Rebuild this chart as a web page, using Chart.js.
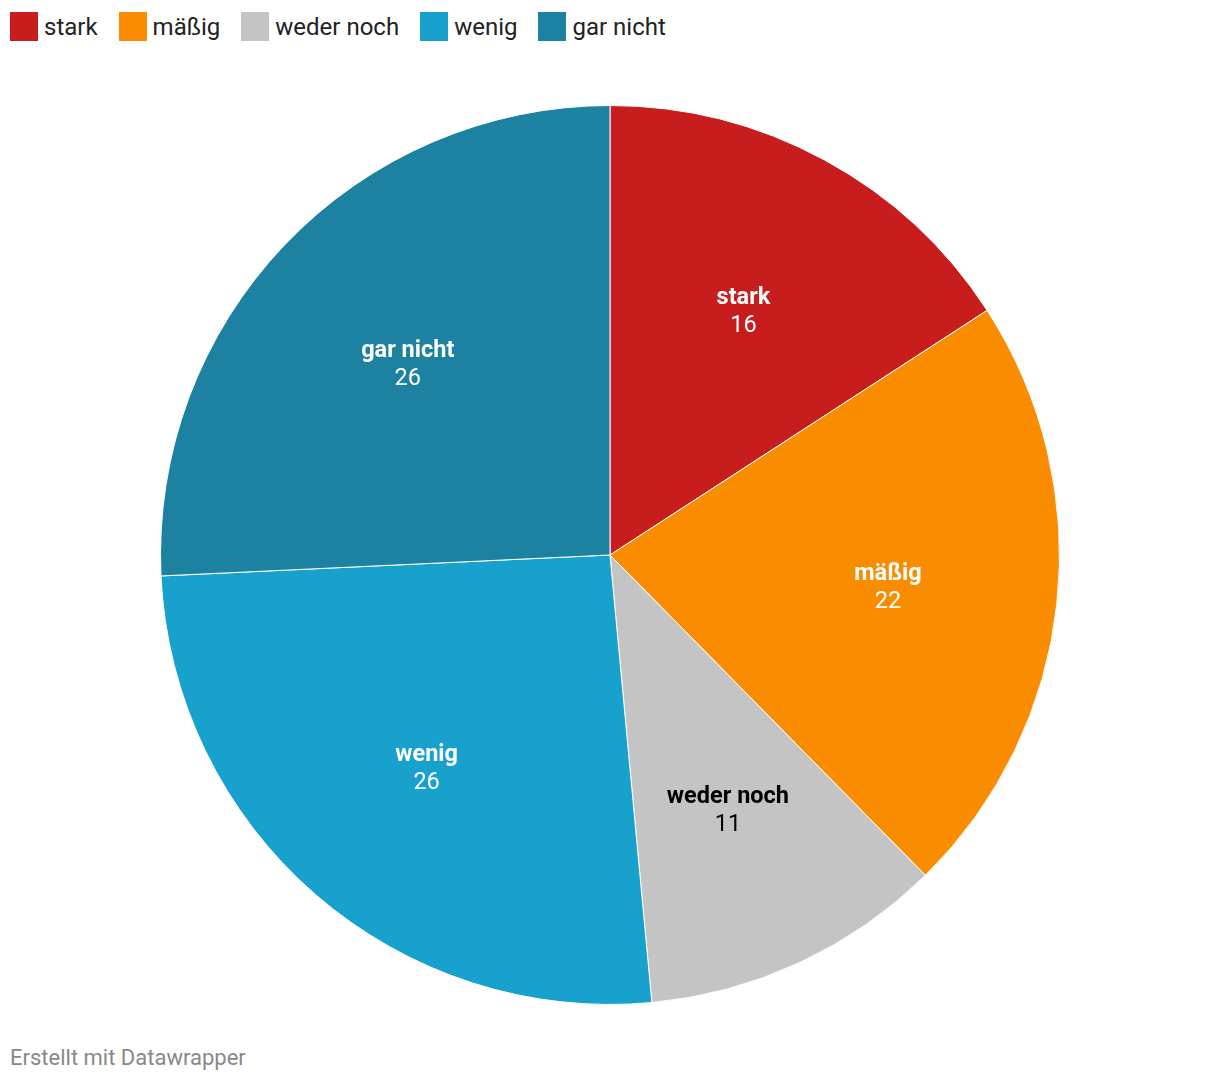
<!DOCTYPE html>
<html>
<head>
<meta charset="utf-8">
<script src="https://cdn.jsdelivr.net/npm/chart.js@4"></script>
<style>
  body { margin: 0; background: #fff; font-family: Roboto, sans-serif; }
  #wrap { position: relative; width: 1220px; height: 1082px; }
  #legend { position: absolute; left: 10px; top: 12px; display: flex; align-items: center; }
  .item { display: flex; align-items: center; margin-right: 21px; font-size: 24px; color: #222; }
  .box { width: 28px; height: 29px; margin-right: 6px; }
  #chartBox { position: absolute; left: 150px; top: 95px; width: 920px; height: 920px; }
  #footer { position: absolute; left: 10px; top: 1045px; font-size: 22px; color: #888; }
</style>
</head>
<body>
<div id="wrap">
  <div id="legend"></div>
  <div id="chartBox"><canvas id="pieChart" width="920" height="920"></canvas></div>
  <div id="footer">Erstellt mit Datawrapper</div>
</div>
<script>
const kategorien = ['stark', 'mäßig', 'weder noch', 'wenig', 'gar nicht'];
const werte = [16, 22, 11, 26, 26];
const farben = ['#c71e1d', '#fa8c00', '#c4c4c4', '#18a1cd', '#1d81a2'];
const textFarben = ['#fff', '#fff', '#000', '#fff', '#fff'];

// legende als html
const legendEl = document.getElementById('legend');
kategorien.forEach((k, i) => {
    const item = document.createElement('div');
    item.className = 'item';
    item.innerHTML = '<span class="box" style="background:' + farben[i] + '"></span>' + k;
    legendEl.appendChild(item);
});

const sliceLabels = {
    id: 'sliceLabels',
    afterDatasetsDraw(chart) {
        const ctx = chart.ctx;
        const meta = chart.getDatasetMeta(0);
        ctx.save();
        ctx.textAlign = 'center';
        ctx.textBaseline = 'middle';
        meta.data.forEach((arc, i) => {
            const p = arc.getProps(['x', 'y', 'startAngle', 'endAngle', 'outerRadius']);
            const mid = (p.startAngle + p.endAngle) / 2;
            const r = p.outerRadius * 0.622;
            const x = p.x + Math.cos(mid) * r;
            const y = p.y + Math.sin(mid) * r + 3;
            ctx.fillStyle = textFarben[i];
            ctx.font = 'bold 23.5px Roboto';
            ctx.fillText(kategorien[i], x, y - 14);
            ctx.font = '23.5px Roboto';
            ctx.fillText(String(werte[i]), x, y + 14);
        });
        ctx.restore();
    }
};

const pieChart = new Chart(document.getElementById('pieChart'), {
    type: 'pie',
    data: {
        labels: kategorien,
        datasets: [{
            data: werte,
            backgroundColor: farben,
            borderColor: '#fff',
            borderWidth: 1
        }]
    },
    options: {
        responsive: false,
        animation: false,
        layout: { padding: 10 },
        plugins: {
            legend: { display: false },
            tooltip: { enabled: false }
        }
    },
    plugins: [sliceLabels]
});
</script>
</body>
</html>
